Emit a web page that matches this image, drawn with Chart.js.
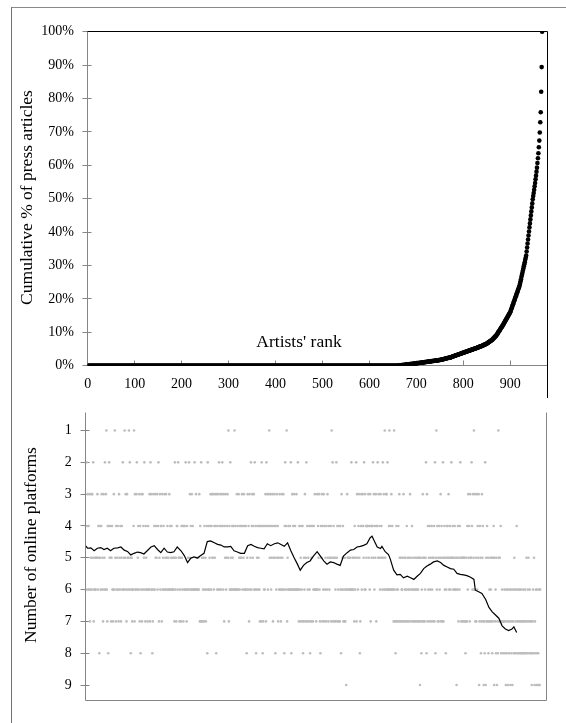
<!DOCTYPE html>
<html><head><meta charset="utf-8">
<script src="https://cdn.jsdelivr.net/npm/chart.js@4.4.1/dist/chart.umd.min.js"></script>
<style>
html,body{margin:0;padding:0;background:#fff;}
body{width:566px;height:723px;position:relative;overflow:hidden;}
#frame{position:absolute;left:11px;top:7px;width:700px;height:800px;border-left:1px solid #707070;border-top:1px solid #8a8a8a;}
#w1{position:absolute;left:0;top:0;width:566px;height:400px;}
#w2{position:absolute;left:0;top:390px;width:566px;height:333px;}
canvas{display:block;}
</style></head><body>
<div id="frame"></div>
<div id="w1"><canvas id="c1" width="566" height="400"></canvas></div>
<div id="w2"><canvas id="c2" width="566" height="333"></canvas></div>
<script>
// ---------- DATA ----------
// Top panel: cumulative % of press articles by artist rank (rank = index + 1)
const cumulativePct = [
0,0,0,0,0,0,0,0,0,0,0,0,0,0,0,0,0,0,0,0,
0,0,0,0,0,0,0,0,0,0,0,0,0,0,0,0,0,0,0,0,
0,0,0,0,0,0,0,0,0,0,0,0,0,0,0,0,0,0,0,0,
0,0,0,0,0,0,0,0,0,0,0,0,0,0,0,0,0,0,0,0,
0,0,0,0,0,0,0,0,0,0,0,0,0,0,0,0,0,0,0,0,
0,0,0,0,0,0,0,0,0,0,0,0,0,0,0,0,0,0,0,0,
0,0,0,0,0,0,0,0,0,0,0,0,0,0,0,0,0,0,0,0,
0,0,0,0,0,0,0,0,0,0,0,0,0,0,0,0,0,0,0,0,
0,0,0,0,0,0,0,0,0,0,0,0,0,0,0,0,0,0,0,0,
0,0,0,0,0,0,0,0,0,0,0,0,0,0,0,0,0,0,0,0,
0,0,0,0,0,0,0,0,0,0,0,0,0,0,0,0,0,0,0,0,
0,0,0,0,0,0,0,0,0,0,0,0,0,0,0,0,0,0,0,0,
0,0,0,0,0,0,0,0,0,0,0,0,0,0,0,0,0,0,0,0,
0,0,0,0,0,0,0,0,0,0,0,0,0,0,0,0,0,0,0,0,
0,0,0,0,0,0,0,0,0,0,0,0,0,0,0,0,0,0,0,0,
0,0,0,0,0,0,0,0,0,0,0,0,0,0,0,0,0,0,0,0,
0,0,0,0,0,0,0,0,0,0,0,0,0,0,0,0,0,0,0,0,
0,0,0,0,0,0,0,0,0,0,0,0,0,0,0,0,0,0,0,0,
0,0,0,0,0,0,0,0,0,0,0,0,0,0,0,0,0,0,0,0,
0,0,0,0,0,0,0,0,0,0,0,0,0,0,0,0,0,0,0,0,
0,0,0,0,0,0,0,0,0,0,0,0,0,0,0,0,0,0,0,0,
0,0,0,0,0,0,0,0,0,0,0,0,0,0,0,0,0,0,0,0,
0,0,0,0,0,0,0,0,0,0,0,0,0,0,0,0,0,0,0,0,
0,0,0,0,0,0,0,0,0,0,0,0,0,0,0,0,0,0,0,0,
0,0,0,0,0,0,0,0,0,0,0,0,0,0,0,0,0,0,0,0,
0,0,0,0,0,0,0,0,0,0,0,0,0,0,0,0,0,0,0,0,
0,0,0,0,0,0,0,0,0,0,0,0,0,0,0,0,0,0,0,0,
0,0,0,0,0,0,0,0,0,0,0,0,0,0,0,0,0,0,0,0,
0,0,0,0,0,0,0,0,0,0,0,0,0,0,0,0,0,0,0,0,
0,0,0,0,0,0,0,0,0,0,0,0,0,0,0,0,0,0,0,0,
0,0,0,0,0,0,0,0,0,0,0,0,0,0,0,0,0,0,0,0,
0,0,0,0,0,0,0,0,0,0,0,0,0,0,0,0,0,0,0,0,
0,0,0,0,0,0,0,0,0,0,0,0,0,0,0,0,0,0,0,0,
0.0,0.0,0.1,0.1,0.1,0.1,0.1,0.1,0.2,0.2,0.2,0.2,0.2,0.2,0.3,0.3,0.3,0.3,0.3,0.4,
0.4,0.4,0.4,0.4,0.4,0.5,0.5,0.5,0.5,0.5,0.5,0.6,0.6,0.6,0.6,0.6,0.6,0.7,0.7,0.7,
0.7,0.7,0.8,0.8,0.8,0.8,0.8,0.9,0.9,0.9,0.9,0.9,1.0,1.0,1.0,1.0,1.0,1.1,1.1,1.1,
1.1,1.1,1.2,1.2,1.2,1.2,1.2,1.3,1.3,1.3,1.3,1.3,1.4,1.4,1.4,1.4,1.4,1.5,1.5,1.5,
1.5,1.5,1.6,1.6,1.6,1.6,1.6,1.7,1.7,1.7,
1.7,1.8,1.8,1.8,1.9,1.9,1.9,2.0,2.0,2.0,2.1,2.1,2.2,2.2,2.2,2.3,2.3,2.3,2.4,2.4,
2.4,2.5,2.5,2.5,2.6,2.7,2.7,2.8,2.8,2.9,2.9,3.0,3.0,3.1,3.1,3.2,3.2,3.3,3.3,3.4,
3.4,3.5,3.5,3.6,3.6,3.7,3.7,3.8,3.8,3.9,
3.9,4.0,4.0,4.1,4.1,4.2,4.2,4.3,4.3,4.4,4.4,4.5,4.5,4.6,4.6,4.7,4.7,4.8,4.8,4.9,
4.9,5.0,5.0,5.1,5.1,5.2,5.2,5.3,5.3,5.4,5.4,5.5,5.6,5.6,5.7,5.7,5.8,5.8,5.9,5.9,
6.0,6.1,6.1,6.2,6.3,6.3,6.4,6.5,6.5,6.6,
6.7,6.8,6.9,7.0,7.1,7.2,7.3,7.4,7.5,7.6,7.7,7.8,8.0,8.1,8.3,8.4,8.6,8.7,8.9,9.0,
9.2,9.4,9.6,9.9,10.1,10.3,10.5,10.7,11.0,11.2,11.4,11.6,11.8,12.0,
12.3,12.5,12.8,13.0,13.3,13.5,13.8,14.0,14.3,14.5,14.8,15.0,15.3,15.5,15.8,16.0,
16.4,16.8,17.2,17.6,18.0,18.4,18.8,19.2,19.6,20.0,20.4,20.8,21.2,21.6,22.0,22.4,22.8,23.2,23.6,24.0,
24.6,25.3,25.9,26.6,27.2,27.8,28.5,29.1,29.8,30.4,31.0,31.7,32.3,33.0,
34.2,35.4,36.6,37.8,39.0,40.2,41.4,42.6,43.8,45.0,46.2,47.4,48.6,49.8,
50.8,51.7,52.7,53.7,54.7,55.8,56.9,58.1,59.3,60.7,62.1,63.6,65.4,67.4,69.8,72.9,75.9,82.0,89.4,100
];

// Bottom panel: number of online platforms per artist rank, 10 ranks per block
const platformBlocks = [
"6243646376","5363527656","6555364584","5643657365","2631674842","5457546763","6157465467","3564754626","5615367356","5162586576",
"6417366326","5463748637","3645267456","6746637236","6873646354","5364275364","4736546365","3654656364","6546656572","6574462557",
"6574564746","4626746562","5364636466","6266356665","6374727576","5746576482","6465436435","5364534836","4362643643","2463745365",
"4351746256","6456461646","6364635645","4536453646","4685364736","5264354362","6486546546","7447248746","6437243643","1543654375",
"4358463547","5636576356","3684264175","6466462863","6463646636","6267467546","7487563752","7465746874","5747646366","7636453678",
"4537463746","5746357465","5471527457","5672547647","7468365476","7576963565","5665626656","5746527356","4358743643","4526364544",
"4354637454","4253645374","4253546354","5625361563","3626641646","3646671678","7467647357","5766573756","5764756756","3756476576",
"7567657657","5975867357","5765283746","5746574657","5472851647","5746537457","2754658645","4536546525","5465646569","5647564257",
"5755755787","5746354735","5246351637","5736453974","5873547978","2957475876","7567587549","5768597815","7574876787","7687968769",
"7867968796","7856876487","6876876878","7687867857","8657867879","8768597869","86989696"
];

// Bottom panel: moving average of platforms
const avgRanks = [0,4,11,18,25,32,39,46,53,60,68,75,82,89,96,103,110,117,124,131,139,146,153,160,167,174,181,188,195,203,
210,217,224,231,238,245,252,259,266,274,281,288,295,302,309,316,323,330,338,345,352,359,366,373,380,387,394,402,409,416,
423,430,437,444,451,457,464,471,478,485,493,500,507,514,521,528,535,542,549,557,564,571,578,585,592,599,606,610,613,621,
628,631,638,645,649,656,663,670,677,685,692,699,706,713,720,727,734,741,749,756,763,770,777,784,791,798,805,812,820,827,
830,837,844,852,859,866,873,880,887,894,901,908,912,918];
const avgPlatforms = [4.63,4.70,4.69,4.78,4.70,4.68,4.74,4.70,4.78,4.70,4.69,4.66,4.76,4.80,4.91,4.86,4.82,4.84,4.88,4.78,
4.66,4.62,4.74,4.84,4.70,4.82,4.84,4.81,4.66,4.78,4.93,5.15,5.01,4.97,5.01,4.93,4.86,4.49,4.47,4.53,
4.58,4.60,4.66,4.66,4.64,4.78,4.82,4.86,4.86,4.62,4.58,4.64,4.68,4.70,4.72,4.56,4.62,4.56,4.53,4.58,
4.64,4.53,4.78,5.00,5.20,5.39,5.24,5.15,5.10,4.95,4.81,4.95,5.10,5.20,5.13,5.15,5.20,5.24,4.95,4.84,
4.76,4.74,4.66,4.64,4.61,4.56,4.37,4.32,4.42,4.66,4.71,4.64,4.81,4.90,5.05,5.39,5.54,5.52,5.63,5.58,
5.63,5.68,5.58,5.49,5.34,5.26,5.20,5.13,5.10,5.15,5.24,5.29,5.34,5.36,5.49,5.52,5.54,5.56,5.61,5.68,
6.02,6.07,6.12,6.31,6.56,6.70,6.80,6.90,7.14,7.24,7.29,7.24,7.17,7.35];

// Tick labels
const pctTicks = [0,10,20,30,40,50,60,70,80,90,100];
const rankTicks = [0,100,200,300,400,500,600,700,800,900];
const platformTicks = [1,2,3,4,5,6,7,8,9];

// Texts
const topYTitle = "Cumulative % of press articles";
const topXTitle = "Artists' rank";
const bottomYTitle = "Number of online platforms";

// ---------- RENDER ----------
const FONT = "'Liberation Serif','Times New Roman',serif";
const AXIS_GRAY = '#858585';
const platformCounts = platformBlocks.join('').split('').map(Number);

function crisp(v){ return Math.floor(v) + 0.5; }

const topDecor = {
  id: 'topDecor',
  beforeDatasetsDraw(chart){
    const {ctx, chartArea: a, scales: {x, y}} = chart;
    const L = crisp(a.left), R = crisp(a.right), T = crisp(a.top), B = crisp(a.bottom);
    ctx.save();
    ctx.lineWidth = 1;
    ctx.strokeStyle = AXIS_GRAY;
    ctx.beginPath();
    ctx.moveTo(L, T); ctx.lineTo(L, B + 0.5);
    ctx.moveTo(L, B); ctx.lineTo(R, B);
    pctTicks.forEach(v => { const yp = crisp(y.getPixelForValue(v)); ctx.moveTo(L - 5, yp); ctx.lineTo(L + 4, yp); });
    rankTicks.forEach(v => { const xp = crisp(x.getPixelForValue(v)); ctx.moveTo(xp, B); ctx.lineTo(xp, B - 5); });
    ctx.stroke();
    ctx.strokeStyle = '#000';
    ctx.beginPath();
    ctx.moveTo(L, T); ctx.lineTo(R, T);
    ctx.moveTo(R, T); ctx.lineTo(R, 398);
    ctx.stroke();
    ctx.fillStyle = '#000';
    ctx.font = "17.5px " + FONT;
    ctx.textAlign = 'center'; ctx.textBaseline = 'middle';
    ctx.fillText(topXTitle, 299, 342.5);
    ctx.translate(27, 197.5); ctx.rotate(-Math.PI / 2);
    ctx.fillText(topYTitle, 0, 0);
    ctx.restore();
  }
};

const bottomDecor = {
  id: 'bottomDecor',
  beforeDatasetsDraw(chart){
    const {ctx, chartArea: a, scales: {y}} = chart;
    const L = crisp(a.left), R = crisp(a.right), T = crisp(a.top), B = crisp(a.bottom);
    ctx.save();
    ctx.lineWidth = 1;
    ctx.strokeStyle = AXIS_GRAY;
    ctx.beginPath();
    ctx.moveTo(L, T); ctx.lineTo(L, B);
    ctx.moveTo(L, B); ctx.lineTo(R, B);
    ctx.moveTo(R, T); ctx.lineTo(R, B);
    platformTicks.forEach(v => { const yp = crisp(y.getPixelForValue(v)); ctx.moveTo(L - 5, yp); ctx.lineTo(L + 4, yp); });
    ctx.stroke();
    ctx.fillStyle = '#000';
    ctx.font = "17.5px " + FONT;
    ctx.textAlign = 'center'; ctx.textBaseline = 'middle';
    ctx.translate(31.5, 155); ctx.rotate(-Math.PI / 2);
    ctx.fillText(bottomYTitle, 0, 0);
    ctx.restore();
  }
};

const tickFont = {family: FONT, size: 14};

new Chart(document.getElementById('c1'), {
  type: 'scatter',
  data: { datasets: [{
    data: cumulativePct.map((v, i) => ({x: i + 1, y: v})),
    pointRadius: 2.3, pointHoverRadius: 2.3, backgroundColor: '#000', borderColor: '#000', borderWidth: 0
  }]},
  options: {
    responsive: false, animation: false, devicePixelRatio: 1,
    layout: {padding: {left: 0, right: 18.7, top: 31.7, bottom: 0}},
    plugins: {legend: {display: false}, tooltip: {enabled: false}},
    events: [],
    scales: {
      x: {type: 'linear', min: 0, max: 979,
        afterBuildTicks: s => { s.ticks = rankTicks.map(v => ({value: v})); },
        afterFit: s => { s.height = 34.3; },
        grid: {display: false, drawTicks: false}, border: {display: false},
        ticks: {font: tickFont, color: '#000', padding: 10, maxRotation: 0, autoSkip: false}},
      y: {type: 'linear', min: 0, max: 100,
        afterBuildTicks: s => { s.ticks = pctTicks.map(v => ({value: v})); },
        afterFit: s => { s.width = 87.7; },
        grid: {display: false, drawTicks: false}, border: {display: false},
        ticks: {font: tickFont, color: '#000', padding: 13.7, callback: v => v + '%'}}
    }
  },
  plugins: [topDecor]
});

new Chart(document.getElementById('c2'), {
  type: 'scatter',
  data: { datasets: [
    { data: avgRanks.map((r, i) => ({x: r, y: avgPlatforms[i]})), showLine: true,
      borderColor: '#000', borderWidth: 1.2, pointRadius: 0, fill: false, tension: 0, order: 0 },
    { data: platformCounts.map((v, i) => ({x: i + 1, y: v})),
      pointRadius: 1.3, pointHoverRadius: 1.3, backgroundColor: '#bdbdbd', borderWidth: 0, order: 1 }
  ]},
  options: {
    responsive: false, animation: false, devicePixelRatio: 1,
    layout: {padding: {left: 0, right: 19.3, top: 8, bottom: 14}},
    plugins: {legend: {display: false}, tooltip: {enabled: false}},
    events: [],
    scales: {
      x: {type: 'linear', min: 0, max: 982, display: false},
      y: {type: 'linear', reverse: true, min: 0.43, max: 9.49,
        afterBuildTicks: s => { s.ticks = platformTicks.map(v => ({value: v})); },
        afterFit: s => { s.width = 85.7; },
        grid: {display: false, drawTicks: false}, border: {display: false},
        ticks: {font: tickFont, color: '#000', padding: 14}}
    }
  },
  plugins: [bottomDecor]
});

if (cumulativePct.length !== 968 || platformCounts.length !== 968 || avgRanks.length !== avgPlatforms.length) {
  throw new Error('length check: ' + cumulativePct.length + ' ' + platformCounts.length + ' ' + avgRanks.length + ' ' + avgPlatforms.length);
}
</script>
</body></html>
